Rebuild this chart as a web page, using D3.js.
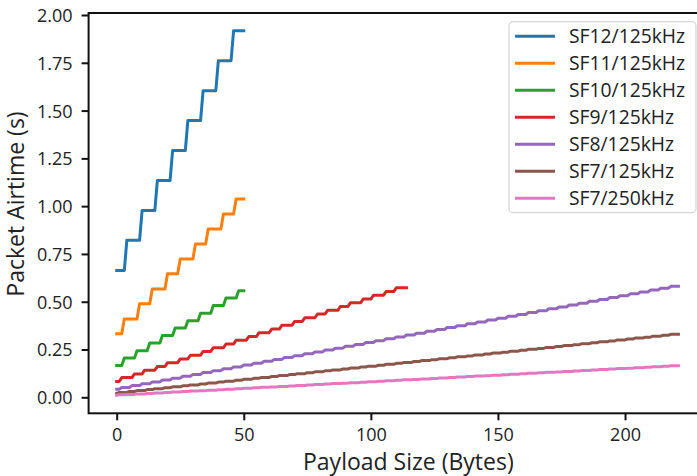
<!DOCTYPE html>
<html>
<head>
<meta charset="utf-8">
<script src="https://cdn.jsdelivr.net/npm/d3@7"></script>
<style>
  body { margin: 0; background: #fff; }
  svg { display: block; font-family: "Open Sans", sans-serif; }
</style>
</head>
<body>
<div id="chart"></div>
<script>
//Datos: inicio de cada escalón (bytes) y tiempo en el aire (s)
const seriesNames = ['SF12/125kHz', 'SF11/125kHz', 'SF10/125kHz', 'SF9/125kHz', 'SF8/125kHz', 'SF7/125kHz', 'SF7/250kHz'];

const sf12Start = [0, 4, 10, 16, 22, 28, 34, 40, 46];
const sf12Time = [0.664, 0.821, 0.977, 1.134, 1.291, 1.448, 1.604, 1.761, 1.918];

const sf11Start = [0, 3, 9, 14, 20, 25, 31, 36, 42, 47];
const sf11Time = [0.332, 0.410, 0.489, 0.567, 0.646, 0.724, 0.802, 0.881, 0.959, 1.038];

const sf10Start = [0, 3, 8, 13, 18, 23, 28, 33, 38, 43, 48];
const sf10Time = [0.166, 0.205, 0.244, 0.284, 0.323, 0.362, 0.401, 0.440, 0.480, 0.519, 0.558];

const sf9Start = [0, 2, 7, 11, 16, 20, 25, 29, 34, 38, 43, 47, 52, 56, 61, 65, 70, 74, 79, 83, 88, 92, 97, 101, 106, 110];
const sf9Time = [0.083, 0.103, 0.122, 0.142, 0.161, 0.181, 0.201, 0.220, 0.240, 0.259, 0.279, 0.299, 0.318,
  0.338, 0.357, 0.377, 0.397, 0.416, 0.436, 0.455, 0.475, 0.495, 0.514, 0.534, 0.553, 0.573];

const sf8Start = [0, 2, 6, 10, 14, 18, 22, 26, 30, 34, 38, 42, 46, 50, 54, 58, 62, 66, 70, 74, 78, 82, 86, 90,
  94, 98, 102, 106, 110, 114, 118, 122, 126, 130, 134, 138, 142, 146, 150, 154, 158, 162, 166, 170, 174, 178,
  182, 186, 190, 194, 198, 202, 206, 210, 214, 218];
const sf8Time = [0.0415, 0.0513, 0.0611, 0.0709, 0.0807, 0.0905, 0.1003, 0.1101, 0.1199, 0.1297, 0.1395, 0.1493,
  0.1591, 0.1689, 0.1787, 0.1885, 0.1983, 0.2081, 0.2179, 0.2277, 0.2375, 0.2473, 0.2571, 0.2669, 0.2767, 0.2865,
  0.2963, 0.3061, 0.3159, 0.3257, 0.3355, 0.3453, 0.3551, 0.3649, 0.3747, 0.3845, 0.3943, 0.4041, 0.4139, 0.4237,
  0.4335, 0.4433, 0.4531, 0.4629, 0.4727, 0.4825, 0.4923, 0.5021, 0.5119, 0.5217, 0.5315, 0.5413, 0.5511, 0.5609,
  0.5707, 0.5805];

const sf7Start = [0, 1, 5, 8, 12, 15, 19, 22, 26, 29, 33, 36, 40, 43, 47, 50, 54, 57, 61, 64, 68, 71, 75, 78, 82,
  85, 89, 92, 96, 99, 103, 106, 110, 113, 117, 120, 124, 127, 131, 134, 138, 141, 145, 148, 152, 155, 159, 162,
  166, 169, 173, 176, 180, 183, 187, 190, 194, 197, 201, 204, 208, 211, 215, 218];
const sf7Time125 = [0.0207, 0.0256, 0.0305, 0.0354, 0.0403, 0.0452, 0.0501, 0.0550, 0.0599, 0.0648, 0.0697, 0.0746,
  0.0795, 0.0844, 0.0893, 0.0942, 0.0991, 0.1040, 0.1089, 0.1138, 0.1187, 0.1236, 0.1285, 0.1334, 0.1383, 0.1432,
  0.1481, 0.1530, 0.1579, 0.1628, 0.1677, 0.1726, 0.1775, 0.1824, 0.1873, 0.1922, 0.1971, 0.2020, 0.2069, 0.2118,
  0.2167, 0.2216, 0.2265, 0.2314, 0.2363, 0.2412, 0.2461, 0.2510, 0.2559, 0.2608, 0.2657, 0.2706, 0.2755, 0.2804,
  0.2853, 0.2902, 0.2951, 0.3000, 0.3049, 0.3098, 0.3147, 0.3196, 0.3245, 0.3294];
const sf7Time250 = [0.0104, 0.0129, 0.0153, 0.0178, 0.0202, 0.0227, 0.0251, 0.0276, 0.0300, 0.0325, 0.0349, 0.0374,
  0.0398, 0.0423, 0.0447, 0.0472, 0.0496, 0.0521, 0.0545, 0.0570, 0.0594, 0.0619, 0.0643, 0.0668, 0.0692, 0.0717,
  0.0741, 0.0766, 0.0790, 0.0815, 0.0839, 0.0864, 0.0888, 0.0913, 0.0937, 0.0962, 0.0986, 0.1011, 0.1035, 0.1060,
  0.1084, 0.1109, 0.1133, 0.1158, 0.1182, 0.1207, 0.1231, 0.1256, 0.1280, 0.1305, 0.1329, 0.1354, 0.1378, 0.1403,
  0.1427, 0.1452, 0.1476, 0.1501, 0.1525, 0.1550, 0.1574, 0.1599, 0.1623, 0.1648];

//Último tamaño de carga dibujado en cada serie
const lastPayload = [50, 50, 50, 114, 221, 221, 221];

const xTicks = [0, 50, 100, 150, 200];
const yTicks = [0, 0.25, 0.5, 0.75, 1, 1.25, 1.5, 1.75, 2];

//Colores (tab10)
const COLORS = ['#1f77b4', '#ff7f0e', '#2ca02c', '#d62728', '#9467bd', '#8c564b', '#e377c2'];

const starts = [sf12Start, sf11Start, sf10Start, sf9Start, sf8Start, sf7Start, sf7Start];
const times = [sf12Time, sf11Time, sf10Time, sf9Time, sf8Time, sf7Time125, sf7Time250];

//Puntos de cada escalón
function stepPoints(st, tm, last) {
  let pts = [];
  for (let i = 0; i < st.length; i++) {
    let end = i < st.length - 1 ? st[i + 1] - 1 : last;
    pts.push([st[i], tm[i]]);
    if (end > st[i]) pts.push([end, tm[i]]);
  }
  return pts;
}

let series = seriesNames.map(function(name, i) {
  return { name: name, color: COLORS[i], points: stepPoints(starts[i], times[i], lastPayload[i]) };
});

//Dimensiones
let W = 697, H = 476;
let mLeft = 88.6, mRight = 706.5, mTop = 13, mBottom = 413.3;

let svg = d3.select('#chart').append('svg')
  .attr('width', W)
  .attr('height', H);

let x = d3.scaleLinear().domain([-11.05, 232.05]).range([mLeft, mRight]);
let y = d3.scaleLinear().domain([-0.0837, 2.0105]).range([mBottom, mTop]);

//Líneas
let line = d3.line().x(function(d) { return x(d[0]); }).y(function(d) { return y(d[1]); });

svg.append('g')
  .selectAll('path')
  .data(series)
  .enter()
  .append('path')
  .attr('d', function(d) { return line(d.points); })
  .attr('fill', 'none')
  .attr('stroke', function(d) { return d.color; })
  .attr('stroke-width', 3)
  .attr('stroke-linejoin', 'round')
  .attr('stroke-linecap', 'square');

//Ejes
let xAxis = svg.append('g')
  .attr('transform', 'translate(0,' + mBottom + ')')
  .call(d3.axisBottom(x).tickValues(xTicks).tickSize(7).tickPadding(8).tickFormat(d3.format('d')));

let yAxis = svg.append('g')
  .attr('transform', 'translate(' + mLeft + ',0)')
  .call(d3.axisLeft(y).tickValues(yTicks).tickSize(7).tickPadding(9).tickFormat(d3.format('.2f')));

[xAxis, yAxis].forEach(function(g) {
  g.select('.domain').remove();
  g.selectAll('.tick line').attr('stroke', '#111').attr('stroke-width', 2);
  g.selectAll('.tick text')
    .attr('fill', '#222')
    .style('font-size', '18px')
    .style('font-family', '"Open Sans", sans-serif');
});
yAxis.selectAll('.tick text').attr('dy', '0.36em');

//Marco
svg.append('rect')
  .attr('x', mLeft)
  .attr('y', mTop)
  .attr('width', mRight - mLeft)
  .attr('height', mBottom - mTop)
  .attr('fill', 'none')
  .attr('stroke', '#111')
  .attr('stroke-width', 2);

//Títulos de ejes
svg.append('text')
  .attr('x', 303)
  .attr('y', 470)
  .attr('fill', '#222')
  .style('font-size', '23px')
  .text('Payload Size (Bytes)');

svg.append('text')
  .attr('transform', 'translate(24,204) rotate(-90)')
  .attr('text-anchor', 'middle')
  .attr('fill', '#222')
  .style('font-size', '23px')
  .text('Packet Airtime (s)');

//Leyenda
let legend = svg.append('g');

legend.append('rect')
  .attr('x', 509)
  .attr('y', 21.7)
  .attr('width', 187)
  .attr('height', 191)
  .attr('rx', 4)
  .attr('fill', '#fff')
  .attr('fill-opacity', 0.8)
  .attr('stroke', '#d6d6d6')
  .attr('stroke-width', 1.2);

let items = legend.selectAll('.item')
  .data(series)
  .enter()
  .append('g')
  .attr('class', 'item')
  .attr('transform', function(d, i) { return 'translate(0,' + (36.3 + i * 27) + ')'; });

items.append('line')
  .attr('x1', 515)
  .attr('x2', 555)
  .attr('stroke', function(d) { return d.color; })
  .attr('stroke-width', 3);

items.append('text')
  .attr('x', 569)
  .attr('dy', '0.36em')
  .attr('fill', '#222')
  .style('font-size', '19.3px')
  .text(function(d) { return d.name; });
</script>
</body>
</html>
